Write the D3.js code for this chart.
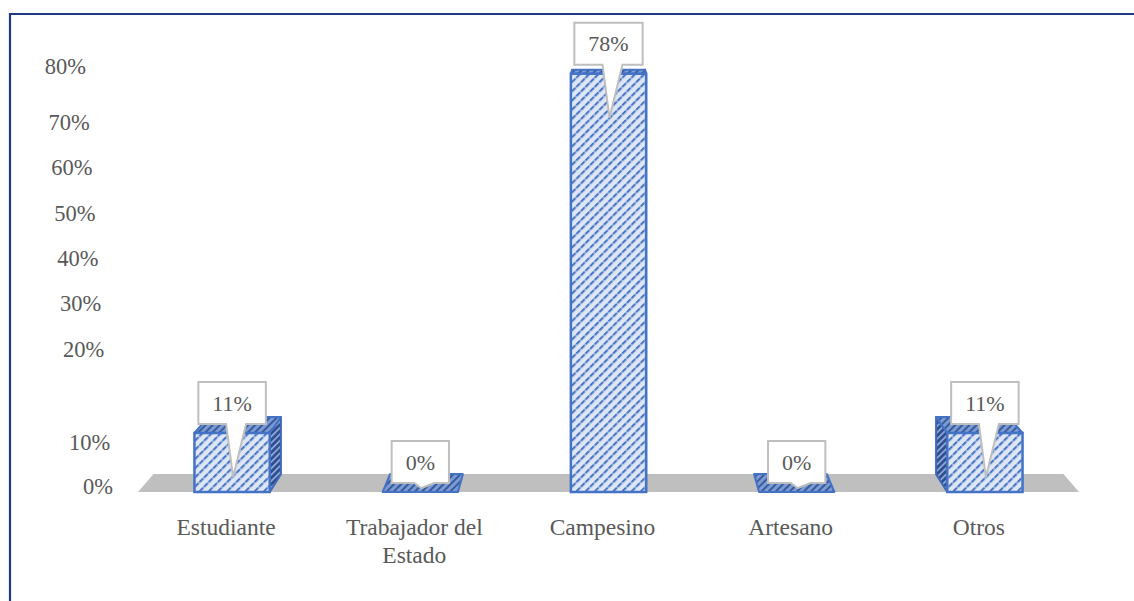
<!DOCTYPE html>
<html>
<head>
<meta charset="utf-8">
<script src="https://cdn.jsdelivr.net/npm/d3@7"></script>
<style>
  body { margin: 0; background: #fff; }
  svg text { font-family: "Liberation Serif", "Times New Roman", serif; fill: #595959; }
</style>
</head>
<body>
<svg id="chart" width="1134" height="601"></svg>
<script>
// data
var categories = ["Estudiante", "Trabajador del Estado", "Campesino", "Artesano", "Otros"];
var values = [0.11, 0, 0.78, 0, 0.11];
var tickValues = [0, 0.1, 0.2, 0.3, 0.4, 0.5, 0.6, 0.7, 0.8];

var svg = d3.select("#chart");
var W = 1134, H = 601;

// frame (only left and top edges show in the picture)
svg.append("path")
    .attr("d", "M10," + H + " V14 H" + W)
    .attr("fill", "none")
    .attr("stroke", "#1F3A80")
    .attr("stroke-width", 2.2);

var x = d3.scaleBand().domain(categories).range([138, 1079]).paddingInner(0.6).paddingOuter(0.3);
var y = d3.scaleLinear().domain([0, 0.8]).range([492, 63]);

// the axis labels sit on a slanted wall and are not evenly spaced in the original
var tickY = d3.scaleLinear().domain([0, 0.1, 0.2, 0.7, 0.8]).range([486, 442, 349, 122, 66]);

var vp = [(x.range()[0] + x.range()[1]) / 2, -50];
var depth = 0.033;
function back(p) { return [p[0] + depth * (vp[0] - p[0]), p[1] + depth * (vp[1] - p[1])]; }
var line = d3.line();

// patterns
var defs = svg.append("defs");
function hatch(id, bg, fg, sw, size) {
  var p = defs.append("pattern")
      .attr("id", id)
      .attr("patternUnits", "userSpaceOnUse")
      .attr("width", size).attr("height", size)
      .attr("patternTransform", "rotate(45)");
  p.append("rect").attr("width", size).attr("height", size).attr("fill", bg);
  p.append("line").attr("x1", 1).attr("y1", 0).attr("x2", 1).attr("y2", size)
      .attr("stroke", fg).attr("stroke-width", sw).attr("stroke-dasharray", "5,1");
}
hatch("front", "#DCE6F5", "#4A74C6", 2.2, 6.5);
hatch("side", "#2E4C8C", "#8FAADC", 1.8, 4.5);
hatch("top", "#7C9AD4", "#2F5597", 1.8, 5);

// floor
var fl = [[x.range()[0], y(0)], [x.range()[1], y(0)]];
svg.append("path")
    .attr("d", line([fl[0], fl[1], back(fl[1]), back(fl[0])]) + "Z")
    .attr("fill", "#BFBFBF");

// tick labels
svg.append("g").selectAll("text")
    .data(tickValues)
  .enter().append("text")
    .attr("x", function(d) { return 113 - 0.064 * (486 - tickY(d)); })
    .attr("y", function(d) { return tickY(d); })
    .attr("dy", "0.35em")
    .attr("text-anchor", "end")
    .style("font-size", "22.5px")
    .text(d3.format(".0%"));

// bars
var data = categories.map(function(c, i) { return {cat: c, value: values[i]}; });
var bw = x.bandwidth();

var bars = svg.append("g").selectAll("g")
    .data(data)
  .enter().append("g");

bars.each(function(d) {
  var g = d3.select(this);
  var x0 = x(d.cat), x1 = x0 + bw, yT = y(d.value), yB = y(0);
  var cx = x0 + bw / 2;
  if (d.value > 0) {
    var sx = cx < vp[0] ? x1 : x0;
    g.append("path")
        .attr("d", line([[sx, yT], back([sx, yT]), back([sx, yB]), [sx, yB]]) + "Z")
        .attr("fill", "url(#side)")
        .attr("stroke", "#3E68B8").attr("stroke-width", 2).attr("stroke-linejoin", "round");
  }
  g.append("path")
      .attr("d", line([[x0, yT], [x1, yT], back([x1, yT]), back([x0, yT])]) + "Z")
      .attr("fill", "url(#top)")
      .attr("stroke", "#4472C4").attr("stroke-width", 2).attr("stroke-linejoin", "round");
  if (d.value > 0) {
    g.append("rect")
        .attr("x", x0).attr("y", yT)
        .attr("width", bw).attr("height", yB - yT)
        .attr("fill", "url(#front)")
        .attr("stroke", "#4472C4").attr("stroke-width", 2.5);
  }
});

// callout labels
var fmt = d3.format(".0%");
var callouts = svg.append("g").selectAll("g")
    .data(data)
  .enter().append("g");

callouts.each(function(d) {
  var g = d3.select(this);
  var cx = x(d.cat) + bw / 2;
  var boxB = y(d.value) - 9, boxT = boxB - 42;
  var path = g.append("path");
  var t = g.append("text")
      .attr("x", cx).attr("y", (boxT + boxB) / 2)
      .attr("dy", "0.35em")
      .attr("text-anchor", "middle")
      .style("font-size", "22px")
      .text(fmt(d.value));
  var tw = t.node().getComputedTextLength() + 28;
  var bl = cx - tw / 2, br = cx + tw / 2;
  var tip = [cx + 1, Math.min(boxB + 53, y(0) - 4)];
  path.attr("d", "M" + bl + "," + boxT + "H" + br + "V" + boxB + "H" + (cx + 14) +
            "L" + tip[0] + "," + tip[1] + "L" + (cx - 6) + "," + boxB + "H" + bl + "Z")
      .attr("fill", "#fff")
      .attr("stroke", "#BFBFBF")
      .attr("stroke-width", 2);
});

// category labels
svg.append("g").selectAll("text")
    .data(categories)
  .enter().append("text")
    .attr("x", function(d) { return x(d) + bw / 2 - 6; })
    .attr("y", 535)
    .attr("text-anchor", "middle")
    .style("font-size", "23.5px")
    .each(function(d) {
      var el = d3.select(this), words = d.split(" "), lines = [], cur = "";
      words.forEach(function(w) {
        var test = cur ? cur + " " + w : w;
        if (test.length > 15 && cur) { lines.push(cur); cur = w; } else { cur = test; }
      });
      lines.push(cur);
      lines.forEach(function(l, i) {
        el.append("tspan").attr("x", el.attr("x")).attr("dy", i ? 28 : 0).text(l);
      });
    });
</script>
</body>
</html>
